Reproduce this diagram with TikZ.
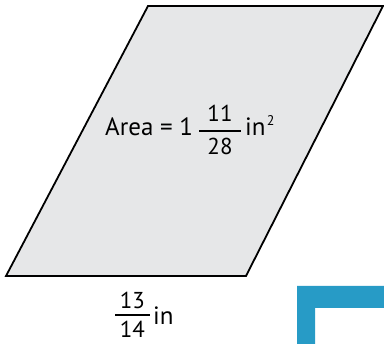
\documentclass[tikz,border=0pt]{standalone}
\usepackage{fontspec}
\setmainfont{PT Sans}
\definecolor{shapegray}{HTML}{E6E7E8}
\definecolor{cornerblue}{HTML}{279BC6}
\tikzset{
  lbl/.style={inner sep=0pt, font=\fontsize{25}{30}\selectfont},
  fracnum/.style={inner sep=0pt, anchor=base, font=\fontsize{23}{27}\selectfont},
  fracbar/.style={line width=1.6pt},
  shapeline/.style={draw=black, line width=1.8pt, fill=shapegray, line join=miter},
}
\begin{document}
\begin{tikzpicture}[x=1pt,y=-1pt]
\useasboundingbox (0,0) rectangle (384,344);
% parallelogram
\coordinate (tl) at (148,6);
\coordinate (tr) at (383,6);
\coordinate (br) at (246,276);
\coordinate (bl) at (6,276);
\path[shapeline] (tl) -- (tr) -- (br) -- (bl) -- cycle;
% area label
\node[lbl, anchor=base west] (area) at (105,136) {Area = 1};
\node[fracnum] (an) at (220,122) {11};
\node[fracnum] (ad) at (220,155) {28};
\draw[fracbar] (199,131) -- (241,131);
\node[lbl, anchor=base west] (ain) at (245,136) {in};
\node[inner sep=0pt, anchor=base west, font=\fontsize{14}{16}\selectfont] (asq) at ([xshift=1pt,yshift=10pt]ain.base east) {2};
% base label
\node[fracnum] (bn) at (132.5,309) {13};
\node[fracnum] (bd) at (132.5,338) {14};
\draw[fracbar] (115,315) -- (150,315);
\node[lbl, anchor=base west] (bin) at (153,325) {in};
% blue corner
\fill[cornerblue] (297,286) -- (384,286) -- (384,308) -- (315,308) -- (315,344) -- (297,344) -- cycle;
\end{tikzpicture}
\end{document}
